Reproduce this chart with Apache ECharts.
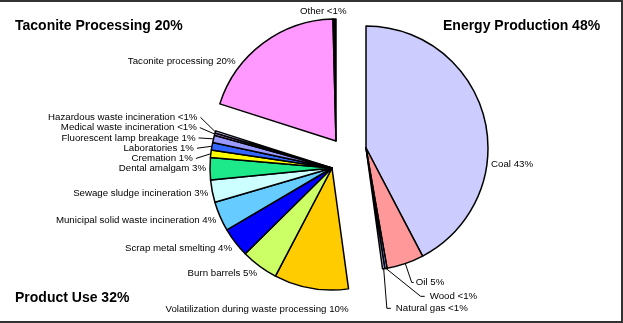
<!DOCTYPE html>
<html>
<head>
<meta charset="utf-8">
<script src="https://cdn.jsdelivr.net/npm/echarts@6/dist/echarts.min.js"></script>
<style>
  html, body { margin: 0; padding: 0; background: #fff; }
  #chart { width: 623px; height: 323px; }
  #frame {
    position: absolute; left: 0; top: 0; width: 623px; height: 323px;
    box-sizing: border-box; border: 2px solid #333; border-left: none;
    pointer-events: none;
  }
</style>
</head>
<body>
<div id="chart"></div>
<div id="frame"></div>
<script>
const energyNames = ['Coal', 'Oil', 'Wood', 'Natural gas'];
const energyValues = [43, 5, 0.3, 0.3];
const energyTags = ['43%', '5%', '<1%', '<1%'];
const energyColors = ['#ccccff', '#ff9999', '#9999ff', '#ccccff'];

const productNames = ['Volatilization during waste processing', 'Burn barrels', 'Scrap metal smelting',
    'Municipal solid waste incineration', 'Sewage sludge incineration', 'Dental amalgam', 'Cremation',
    'Laboratories', 'Fluorescent lamp breakage', 'Medical waste incineration', 'Hazardous waste incineration'];
const productValues = [10, 5, 4, 4, 3, 3, 1, 1, 1, 0.3, 0.3];
const productTags = ['10%', '5%', '4%', '4%', '3%', '3%', '1%', '1%', '1%', '<1%', '<1%'];
const productColors = ['#ffcc00', '#ccff66', '#0000ff', '#66ccff', '#ccffff', '#1de98b', '#ffff00',
    '#3366ff', '#9999ff', '#cc99ff', '#ccccff'];

const taconiteNames = ['Taconite processing', 'Other'];
const taconiteValues = [20, 0.4];
const taconiteTags = ['20%', '<1%'];
const taconiteColors = ['#ff99ff', '#000000'];

const groupTitles = ['Taconite Processing 20%', 'Energy Production 48%', 'Product Use 32%'];

const R = 122;
const GAP = 4;
const LINE_H = 10.3;
const LEAD = 20;

const sum = (a) => a.reduce((s, v) => s + v, 0);
const total = sum(energyValues) + sum(productValues) + sum(taconiteValues);
const rad = (d) => d * Math.PI / 180;

// label spots next to each slice, Excel style
function labelSpots(values, center, before, lineBelow, shift) {
    let acc = before;
    let prevY = null;
    return values.map((v) => {
        const a0 = acc / total * 360;
        const a1 = (acc + v) / total * 360;
        acc += v;
        const midDeg = (a0 + a1) / 2;
        const mid = rad(midDeg);
        const sx = Math.sin(mid), sy = -Math.cos(mid);
        const px = center[0] + R * sx, py = center[1] + R * sy;
        let spot;
        if (a0 < 180 && a1 > 180 && a1 - a0 < 60) {
            // slice straddling the bottom: label goes under the pie
            spot = { x: center[0] + R * Math.sin(rad(a0)), y: center[1] + R + 19, align: 'right' };
        } else if (midDeg > 355) {
            // sliver at the top: label sits just above it
            spot = { x: px + 12, y: py - 8, align: 'right' };
        } else if (v < lineBelow && sx < 0 && prevY !== null) {
            // small slices on the left: packed one line above the previous label, with a leader
            const y = prevY - LINE_H;
            const x = px - 18;
            spot = { x: x, y: y, align: 'right', labelLinePoints: [[px, py], [x + 3, y], [x + 3, y]] };
        } else if (v < lineBelow) {
            // small slices on the right: leader along the bisector
            const qx = px + LEAD * sx, qy = py + LEAD * sy;
            spot = { x: qx + 4, y: qy, align: 'left', labelLinePoints: [[px, py], [qx, qy], [qx + 2, qy]] };
        } else {
            const m = rad(midDeg + shift);
            const tx = Math.sin(m), ty = -Math.cos(m);
            spot = {
                x: center[0] + (R + GAP) * tx,
                y: center[1] + (R + GAP) * ty + LINE_H / 2 * ty,
                align: tx < 0 ? 'right' : 'left'
            };
        }
        spot.verticalAlign = 'middle';
        prevY = spot.y;
        return spot;
    });
}

function groupSeries(names, values, tags, colors, center, before, lineBelow, shift, custom) {
    const data = names.map((n, i) => {
        const line = values[i] < lineBelow;
        return {
            name: n,
            value: values[i],
            tag: tags[i],
            itemStyle: { color: colors[i] },
            labelLine: { show: line, length: line ? 22 : 3, length2: line ? 4 : 0 }
        };
    });
    // transparent filler for the rest of the circle
    data.push({
        name: '',
        value: total - sum(values),
        itemStyle: { color: 'rgba(0,0,0,0)', borderWidth: 0 },
        label: { show: false },
        labelLine: { show: false },
        emphasis: { disabled: true }
    });
    const spots = labelSpots(values, center, before, lineBelow, shift);
    return {
        type: 'pie',
        radius: R,
        center: center,
        startAngle: 90 - before / total * 360,
        clockwise: true,
        animation: false,
        silent: true,
        data: data,
        itemStyle: { borderColor: '#000', borderWidth: 1.5 },
        label: {
            position: 'outside',
            fontFamily: 'Liberation Sans',
            fontSize: 9.7,
            color: '#000',
            formatter: (p) => p.name + ' ' + p.data.tag
        },
        labelLine: {
            lineStyle: { color: '#000', width: 1 }
        },
        labelLayout: (p) => (custom(p.dataIndex) ? spots[p.dataIndex] : undefined)
    };
}

const chart = echarts.init(document.getElementById('chart'));
chart.setOption({
    backgroundColor: '#fff',
    title: [
        { text: groupTitles[0], left: 15, top: 19 },
        { text: groupTitles[1], left: 443, top: 19 },
        { text: groupTitles[2], left: 15, top: 291 }
    ].map((t) => Object.assign(t, {
        padding: 0,
        textStyle: { fontFamily: 'Liberation Sans', fontSize: 14, fontWeight: 'bold', color: '#000' }
    })),
    series: [
        groupSeries(energyNames, energyValues, energyTags, energyColors, [366, 148], 0, 10, 21,
            (i) => i < 2),
        groupSeries(productNames, productValues, productTags, productColors, [332, 168],
            sum(energyValues), 2, 0, (i) => i < productValues.length),
        groupSeries(taconiteNames, taconiteValues, taconiteTags, taconiteColors, [336, 141],
            sum(energyValues) + sum(productValues), 0, -16, (i) => i < taconiteValues.length)
    ]
});
</script>
</body>
</html>
